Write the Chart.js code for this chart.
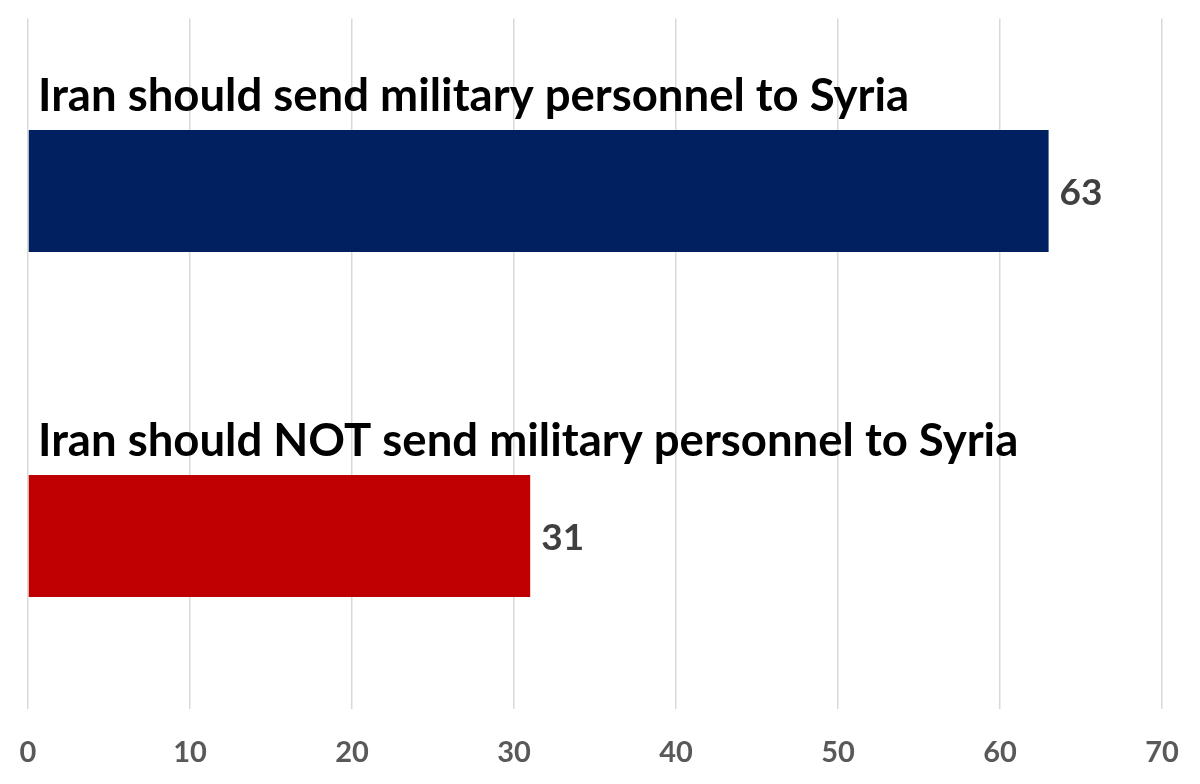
<!DOCTYPE html>
<html>
<head>
<meta charset="utf-8">
<script src="https://cdn.jsdelivr.net/npm/chart.js@4.4.1/dist/chart.umd.min.js"></script>
<style>
html,body{margin:0;padding:0;background:#fff;}
#wrap{width:1200px;height:784px;}
</style>
</head>
<body>
<div id="wrap"><canvas id="c" width="1200" height="784"></canvas></div>
<script>
const categories = ["Iran should send military personnel to Syria", "Iran should NOT send military personnel to Syria"];
const values = [63, 31];
const barColors = ["#002060", "#C00000"];
const tickValues = [0, 10, 20, 30, 40, 50, 60, 70];

const FONT = "Lato";

const labelPlugin = {
  id: 'labels',
  afterDatasetsDraw(chart) {
    const ctx = chart.ctx;
    const meta = chart.getDatasetMeta(0);
    ctx.save();
    meta.data.forEach((bar, i) => {
      const top = bar.y - bar.height / 2;
      ctx.font = "bold 45.5px " + FONT;
      ctx.fillStyle = "#000000";
      ctx.textAlign = "left";
      ctx.textBaseline = "alphabetic";
      ctx.fillText(categories[i], chart.chartArea.left + 10, top - 19);
      ctx.font = "bold 37px " + FONT;
      ctx.fillStyle = "#404040";
      ctx.textBaseline = "middle";
      ctx.fillText(String(values[i]), bar.x + 11, bar.y + 2);
    });
    ctx.restore();
  }
};

new Chart(document.getElementById('c'), {
  type: 'bar',
  data: {
    labels: categories,
    datasets: [{
      data: values,
      backgroundColor: barColors,
      borderWidth: 0,
      categoryPercentage: 1.0,
      barPercentage: 0.354
    }]
  },
  options: {
    indexAxis: 'y',
    responsive: false,
    animation: false,
    layout: { padding: { left: 28, right: 38, top: 18.5, bottom: 0 } },
    plugins: { legend: { display: false }, tooltip: { enabled: false } },
    scales: {
      y: { display: false },
      x: {
        min: 0, max: 70,
        afterBuildTicks(scale) { scale.ticks = tickValues.map(v => ({ value: v })); },
        afterFit(scale) {
          scale.height = 75.5;
          scale.paddingLeft = 0;
          scale.paddingRight = 0;
        },
        grid: { color: "#d9d9d9", lineWidth: 1.5, drawTicks: false },
        border: { display: false },
        ticks: {
          padding: 27,
          maxRotation: 0,
          color: "#595959",
          font: { family: FONT, size: 29, weight: 'bold' }
        }
      }
    }
  },
  plugins: [labelPlugin]
});
</script>
</body>
</html>
